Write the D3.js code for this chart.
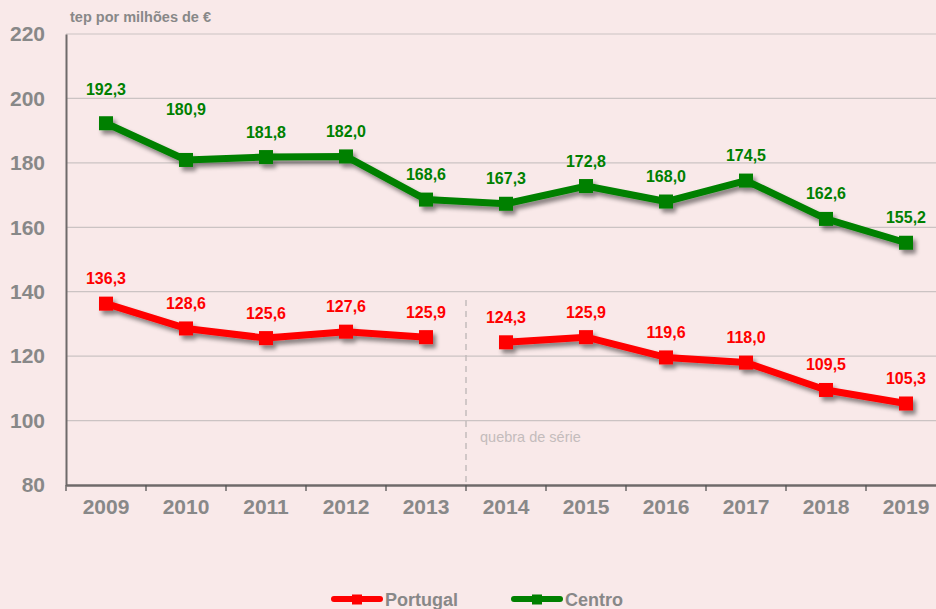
<!DOCTYPE html>
<html>
<head>
<meta charset="utf-8">
<script src="https://cdn.jsdelivr.net/npm/d3@7"></script>
<style>
  html, body { margin: 0; padding: 0; background: #f9e9e9; }
  svg { display: block; font-family: "Liberation Sans", Arial, sans-serif; }
</style>
</head>
<body>
<svg id="chart" width="936" height="609"></svg>
<script>
// Energy intensity, tep per million €
const years = ["2009","2010","2011","2012","2013","2014","2015","2016","2017","2018","2019"];
const portugal = [136.3, 128.6, 125.6, 127.6, 125.9, 124.3, 125.9, 119.6, 118.0, 109.5, 105.3];
const centro = [192.3, 180.9, 181.8, 182.0, 168.6, 167.3, 172.8, 168.0, 174.5, 162.6, 155.2];
const yTicks = [80, 100, 120, 140, 160, 180, 200, 220];
const seriesBreakAfter = "2013"; // methodology change between 2013 and 2014

// label lift above each point (px)
const centroLabelLift = [34, 50, 25, 25, 25, 25, 25, 25, 25, 25, 25];
const portugalLabelLift = [25, 25, 25, 25, 25, 25, 25, 25, 25, 25, 25];

const svg = d3.select("#chart");
const W = 936, H = 609;
const plotLeft = 66, plotTop = 34, plotBottom = 485;
const fmt = v => v.toFixed(1).replace(".", ",");

svg.append("rect").attr("width", W).attr("height", H).attr("fill", "#f9e9e9");

const defs = svg.append("defs");
const f = defs.append("filter").attr("id", "shadow")
  .attr("x", "-10%").attr("y", "-20%").attr("width", "130%").attr("height", "160%");
f.append("feDropShadow").attr("dx", 3).attr("dy", 4).attr("stdDeviation", 2)
  .attr("flood-color", "#000").attr("flood-opacity", 0.45);

const x = d3.scaleBand().domain(years).range([plotLeft, plotLeft + 80 * years.length]).padding(0);
const y = d3.scaleLinear().domain([80, 220]).range([plotBottom, plotTop]);

// gridlines
svg.append("g").selectAll("line").data(yTicks.filter(t => t > 80)).join("line")
  .attr("x1", plotLeft).attr("x2", W)
  .attr("y1", d => y(d)).attr("y2", d => y(d))
  .attr("stroke", "#cbc3c3").attr("stroke-width", 1.2);

// y axis
const yAxis = svg.append("g").attr("transform", `translate(${plotLeft},0)`)
  .call(d3.axisLeft(y).tickValues(yTicks).tickSize(0).tickPadding(21));
yAxis.select(".domain").attr("stroke", "#6f6a6a").attr("stroke-width", 2);
yAxis.selectAll("text").attr("fill", "#888").attr("font-size", 21).attr("font-weight", "bold")
  .attr("font-family", "Liberation Sans, Arial, sans-serif");

// x axis
const xAxis = svg.append("g").attr("transform", `translate(0,${plotBottom})`)
  .call(d3.axisBottom(x).tickSize(0).tickPadding(14));
xAxis.select(".domain").attr("stroke", "#6f6a6a").attr("stroke-width", 2.5);
xAxis.selectAll("text").attr("fill", "#888").attr("font-size", 21).attr("font-weight", "bold")
  .attr("font-family", "Liberation Sans, Arial, sans-serif");
xAxis.append("g").selectAll("line").data(years).join("line")
  .attr("x1", d => x(d)).attr("x2", d => x(d))
  .attr("y1", 0).attr("y2", 6)
  .attr("stroke", "#555").attr("stroke-width", 1.3);

// series break marker
const bx = x(seriesBreakAfter) + x.bandwidth();
svg.append("line").attr("x1", bx).attr("x2", bx).attr("y1", 300).attr("y2", plotBottom)
  .attr("stroke", "#c4bcbc").attr("stroke-width", 1.5).attr("stroke-dasharray", "6,5");
svg.append("text").attr("x", bx + 14).attr("y", 442).text("quebra de série")
  .attr("fill", "#c4bcbc").attr("font-size", 14.5);

const cx = d => x(d) + x.bandwidth() / 2;
const line = d3.line().x(d => cx(d.year)).y(d => y(d.value));

function drawSeries(values, color, segments, lifts) {
  const pts = years.map((yr, i) => ({ year: yr, value: values[i], i }));
  const g = svg.append("g").attr("filter", "url(#shadow)");
  segments.forEach(([a, b]) => {
    g.append("path").datum(pts.slice(a, b)).attr("d", line)
      .attr("fill", "none").attr("stroke", color).attr("stroke-width", 7)
      .attr("stroke-linejoin", "round");
  });
  g.selectAll("rect").data(pts).join("rect")
    .attr("x", d => cx(d.year) - 7).attr("y", d => y(d.value) - 7)
    .attr("width", 14).attr("height", 14).attr("fill", color);
  svg.append("g").selectAll("text").data(pts).join("text")
    .attr("x", d => cx(d.year)).attr("y", d => y(d.value) - lifts[d.i])
    .attr("text-anchor", "middle").attr("dominant-baseline", "central")
    .attr("fill", color).attr("font-size", 16).attr("font-weight", "bold")
    .text(d => fmt(d.value));
}

const breakIdx = years.indexOf(seriesBreakAfter) + 1;
drawSeries(centro, "#008000", [[0, years.length]], centroLabelLift);
drawSeries(portugal, "#ff0000", [[0, breakIdx], [breakIdx, years.length]], portugalLabelLift);

// axis title
svg.append("text").attr("x", 70).attr("y", 22).text("tep por milhões de €")
  .attr("fill", "#888").attr("font-size", 14.5).attr("font-weight", "bold");

// legend
const legend = [{ name: "Portugal", color: "#ff0000", x: 331 }, { name: "Centro", color: "#008000", x: 511 }];
const lg = svg.append("g");
legend.forEach(l => {
  lg.append("line").attr("x1", l.x + 3).attr("x2", l.x + 49).attr("y1", 599).attr("y2", 599)
    .attr("stroke", l.color).attr("stroke-width", 6).attr("stroke-linecap", "round");
  lg.append("rect").attr("x", l.x + 21).attr("y", 594.5).attr("width", 10).attr("height", 10).attr("fill", l.color);
  lg.append("text").attr("x", l.x + 54).attr("y", 606).text(l.name)
    .attr("fill", "#888").attr("font-size", 18).attr("font-weight", "bold");
});
</script>
</body>
</html>
